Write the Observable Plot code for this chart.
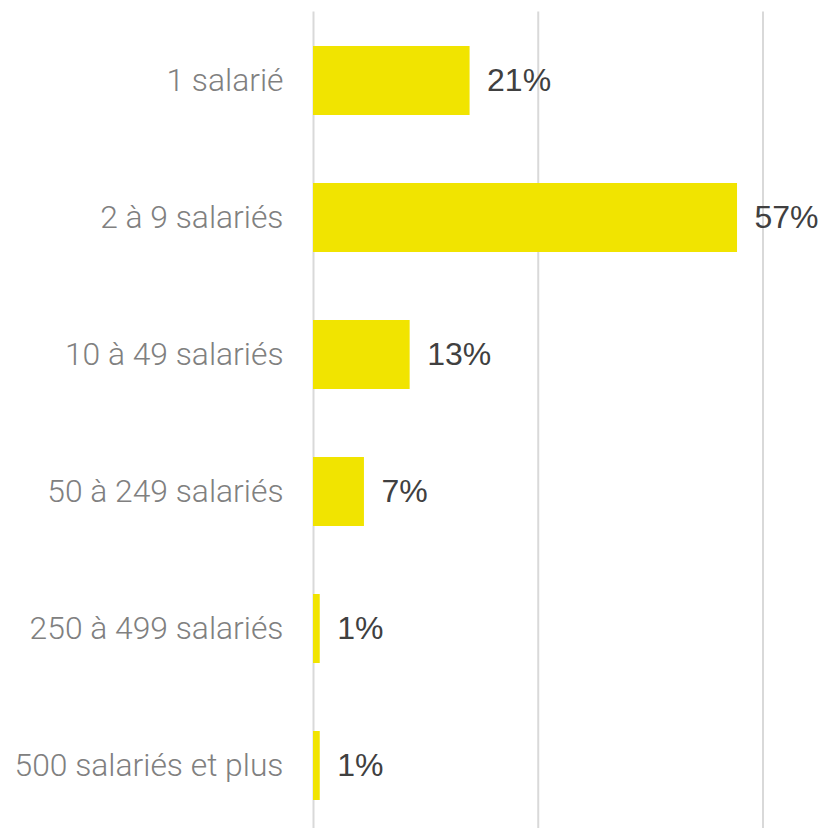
<!DOCTYPE html>
<html>
<head>
<meta charset="utf-8">
<script src="https://cdn.jsdelivr.net/npm/d3@7"></script>
<script src="https://cdn.jsdelivr.net/npm/@observablehq/plot@0.6"></script>
<style>
  html, body { margin: 0; padding: 0; background: #fff; overflow: hidden; }
</style>
</head>
<body>
<div id="chart"></div>
<script>
const categories = ["1 salarié", "2 à 9 salariés", "10 à 49 salariés", "50 à 249 salariés", "250 à 499 salariés", "500 salariés et plus"];
const values = [20.9, 56.6, 12.9, 6.8, 0.9, 0.9];
const valueLabels = ["21%", "57%", "13%", "7%", "1%", "1%"];
const gridTicks = [0, 30, 60];

const data = categories.map((c, i) => ({category: c, value: values[i], label: valueLabels[i]}));

const chart = Plot.plot({
  width: 826,
  height: 834,
  marginLeft: 313,
  marginRight: 63.5,
  marginTop: 11.5,
  marginBottom: 0,
  x: {domain: [0, 60], axis: null},
  y: {domain: categories, paddingInner: 0.5, paddingOuter: 0.25, axis: null, label: null},
  marks: [
    Plot.ruleX(gridTicks, {stroke: "#d9d9d9", strokeWidth: 2}),
    Plot.barX(data, {x: "value", y: "category", fill: "#f1e400"}),
    Plot.axisY({
      tickSize: 0,
      tickPadding: 30,
      fontSize: 31.8,
      fill: "#808080",
      fontFamily: "Roboto",
      fontWeight: 300,
      label: null
    }),
    Plot.text(data, {
      x: "value",
      y: "category",
      text: "label",
      dx: 17,
      textAnchor: "start",
      fill: "#404040",
      fontSize: 32,
      fontFamily: "Liberation Sans, Arial, sans-serif"
    })
  ],
  style: {background: "#fff", overflow: "visible"}
});
document.getElementById("chart").appendChild(chart);
</script>
</body>
</html>
